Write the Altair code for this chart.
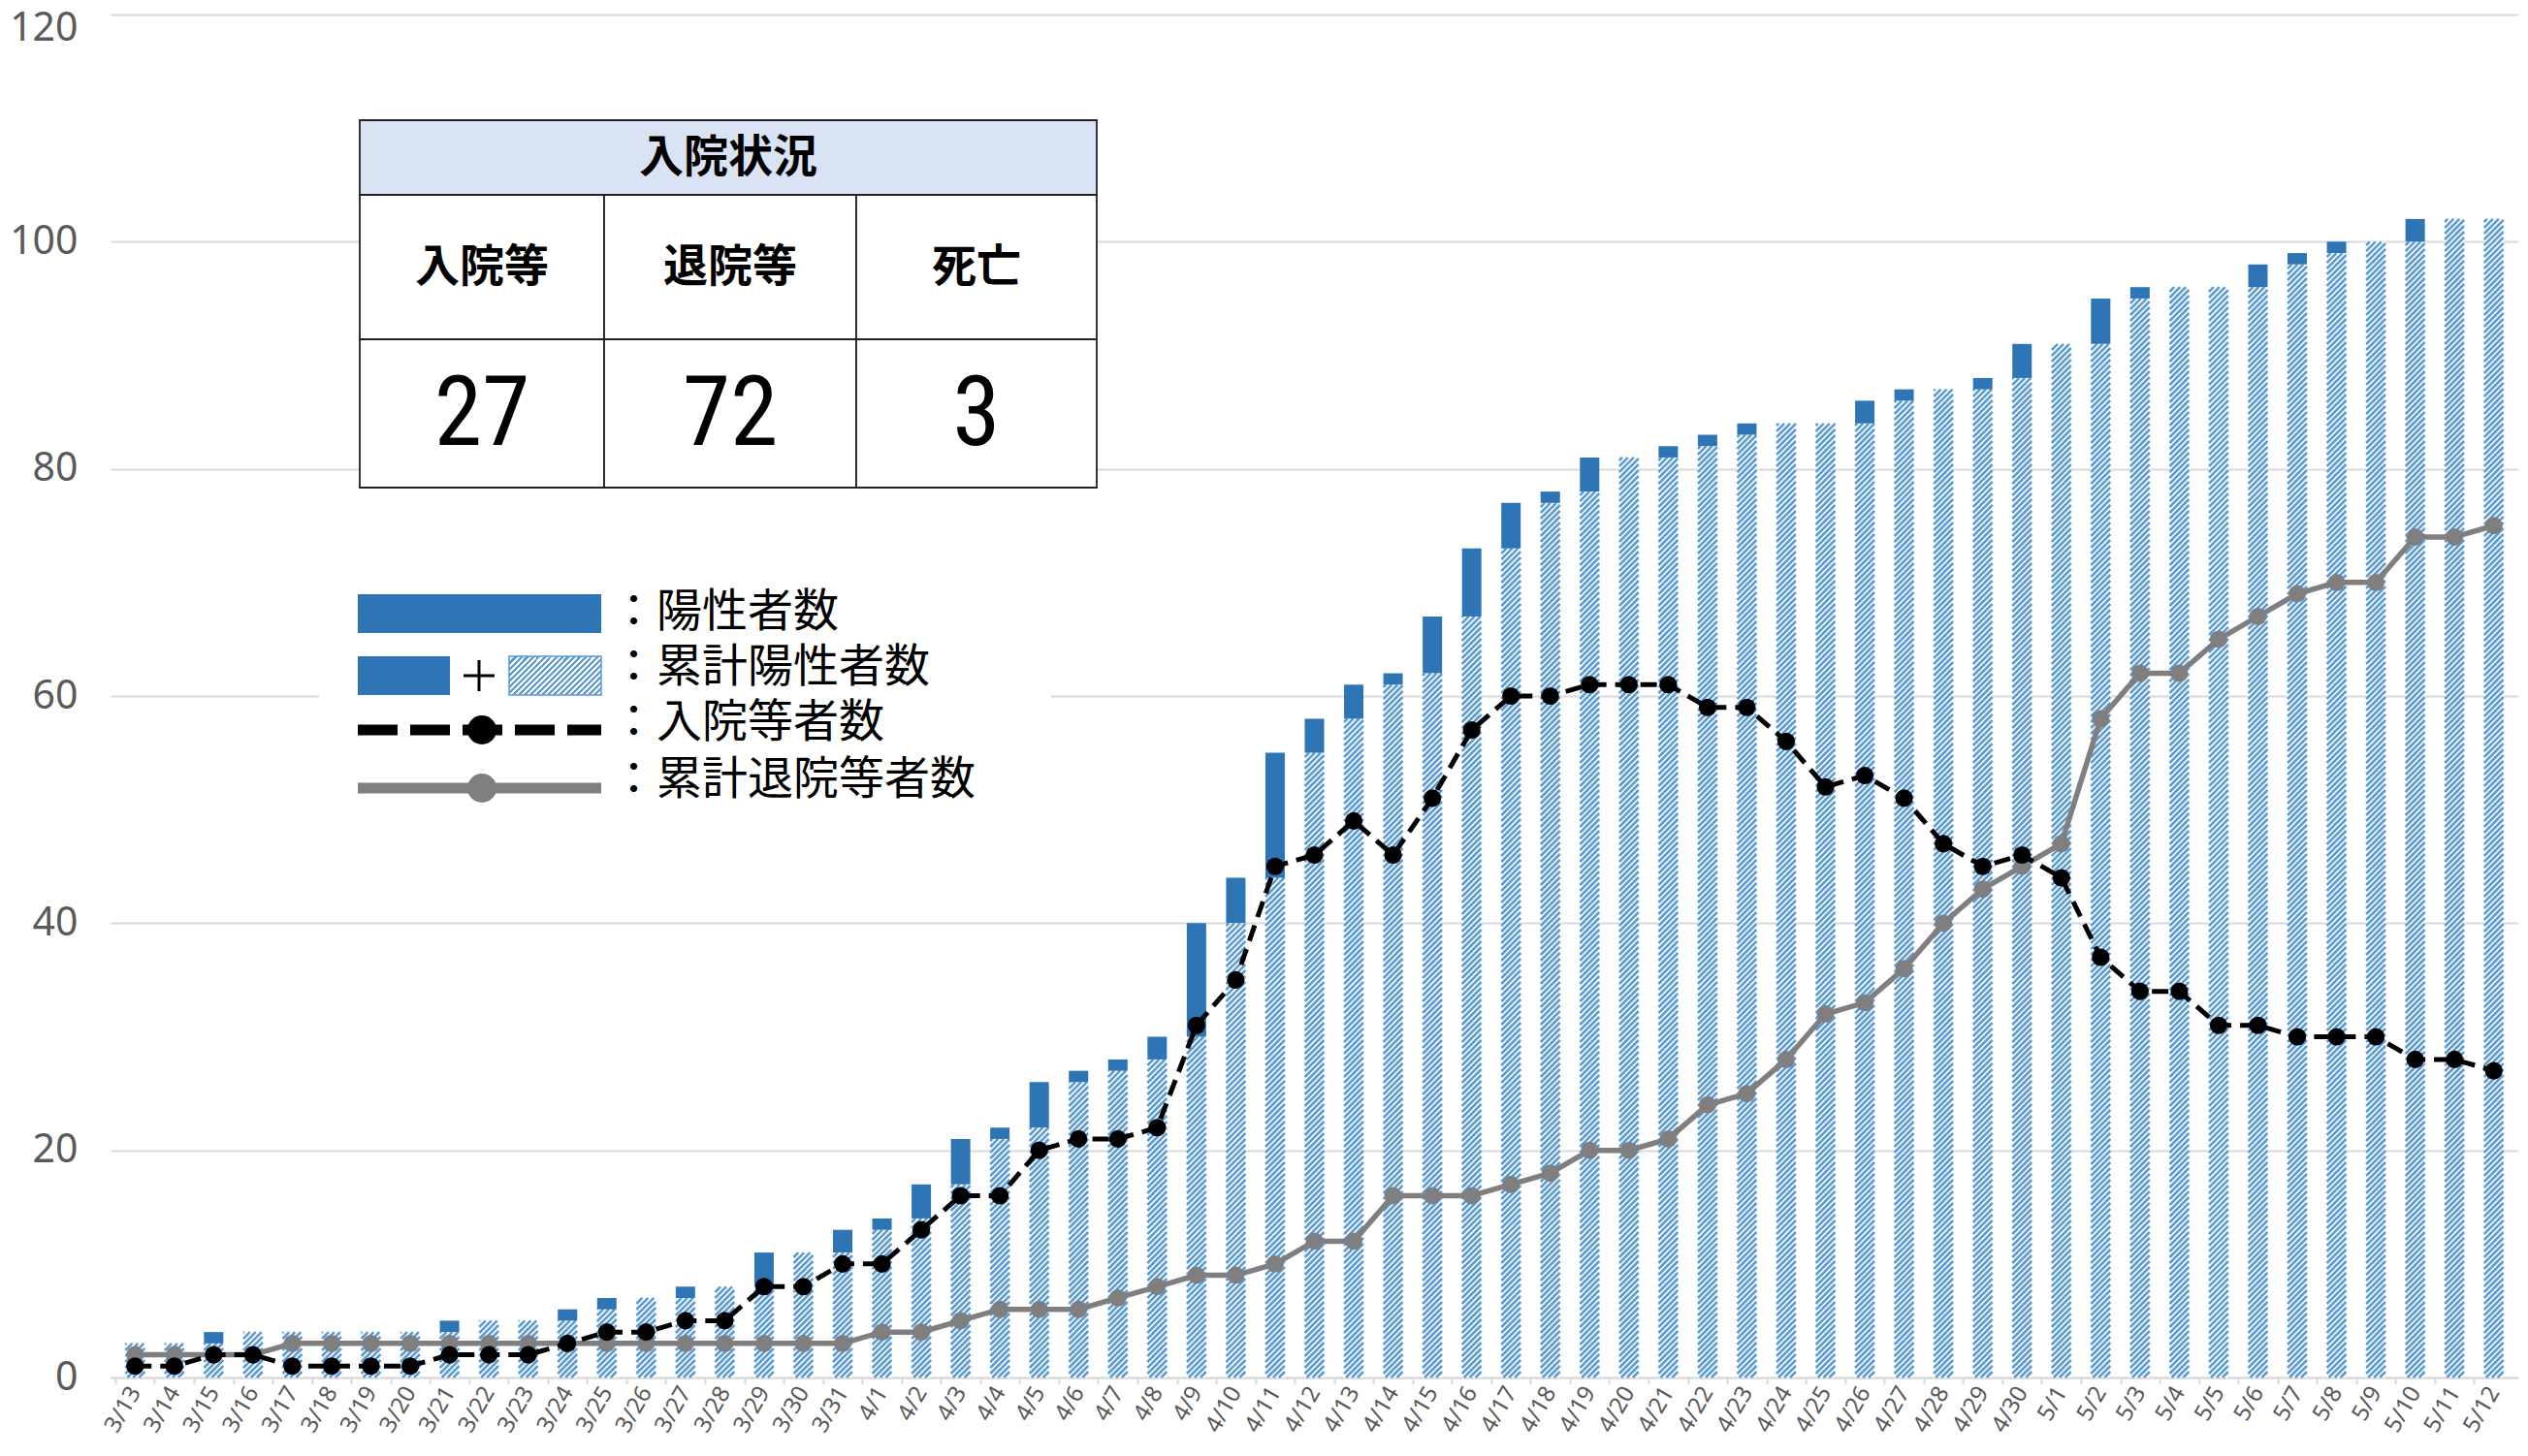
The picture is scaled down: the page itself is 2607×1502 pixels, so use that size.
import altair as alt
import pandas as pd

# ---------------- data ----------------
dates = ["3/13", "3/14", "3/15", "3/16", "3/17", "3/18", "3/19", "3/20", "3/21", "3/22",
         "3/23", "3/24", "3/25", "3/26", "3/27", "3/28", "3/29", "3/30", "3/31",
         "4/1", "4/2", "4/3", "4/4", "4/5", "4/6", "4/7", "4/8", "4/9", "4/10",
         "4/11", "4/12", "4/13", "4/14", "4/15", "4/16", "4/17", "4/18", "4/19", "4/20",
         "4/21", "4/22", "4/23", "4/24", "4/25", "4/26", "4/27", "4/28", "4/29", "4/30",
         "5/1", "5/2", "5/3", "5/4", "5/5", "5/6", "5/7", "5/8", "5/9", "5/10", "5/11", "5/12"]
new_cases = [0, 0, 1, 0, 0, 0, 0, 0, 1, 0, 0, 1, 1, 0, 1, 0, 3, 0, 2,
             1, 3, 4, 1, 4, 1, 1, 2, 10, 4, 11, 3, 3, 1, 5, 6, 4, 1, 3, 0,
             1, 1, 1, 0, 0, 2, 1, 0, 1, 3,
             0, 4, 1, 0, 0, 2, 1, 1, 0, 2, 0, 0]
total_cases = [3, 3, 4, 4, 4, 4, 4, 4, 5, 5, 5, 6, 7, 7, 8, 8, 11, 11, 13,
               14, 17, 21, 22, 26, 27, 28, 30, 40, 44, 55, 58, 61, 62, 67, 73, 77, 78, 81, 81,
               82, 83, 84, 84, 84, 86, 87, 87, 88, 91,
               91, 95, 96, 96, 96, 98, 99, 100, 100, 102, 102, 102]
hospitalized = [1, 1, 2, 2, 1, 1, 1, 1, 2, 2, 2, 3, 4, 4, 5, 5, 8, 8, 10,
                10, 13, 16, 16, 20, 21, 21, 22, 31, 35, 45, 46, 49, 46, 51, 57, 60, 60, 61, 61,
                61, 59, 59, 56, 52, 53, 51, 47, 45, 46,
                44, 37, 34, 34, 31, 31, 30, 30, 30, 28, 28, 27]
discharged = [2, 2, 2, 2, 3, 3, 3, 3, 3, 3, 3, 3, 3, 3, 3, 3, 3, 3, 3,
              4, 4, 5, 6, 6, 6, 7, 8, 9, 9, 10, 12, 12, 16, 16, 16, 17, 18, 20, 20,
              21, 24, 25, 28, 32, 33, 36, 40, 43, 45,
              47, 58, 62, 62, 65, 67, 69, 70, 70, 74, 74, 75]
y_ticks = [0, 20, 40, 60, 80, 100, 120]

table_title = "入院状況"
table_heads = ["入院等", "退院等", "死亡"]
table_values = ["27", "72", "3"]
legend_labels = ["：陽性者数", "：累計陽性者数", "：入院等者数", "：累計退院等者数"]

df = pd.DataFrame({
    "idx": list(range(len(dates))),
    "date": dates,
    "new": new_cases,
    "total": total_cases,
    "hosp": hospitalized,
    "disc": discharged,
})
df["prev"] = df["total"] - df["new"]

# ---------------- layout / style ----------------
N = len(dates)
W, H = 2483, 1406
YMAX = 120
px_x = W / N
px_y = H / YMAX
BAR_W = 20
HW = (BAR_W / 2) / px_x          # half bar width in x units
RISE = BAR_W / px_y               # 45-degree hatch rise over one bar width, in y units
PITCH = 6 / px_y                  # vertical hatch pitch in y units

SOLID = "#2E75B6"
HATCH = "#5B9BD5"
GRID = "#D9D9D9"
AXTXT = "#595959"
NUMFONT = "Noto Sans"
JPFONT = "Noto Sans CJK JP"

x_scale = alt.Scale(domain=[-0.5, N - 0.5], nice=False, zero=False)
y_scale = alt.Scale(domain=[0, YMAX], nice=False)

label_expr = ("datum.value < %d ? [" % N + ",".join("'%s'" % d for d in dates)
              + "][round(datum.value)] : ''")

base = alt.Chart(df)

white_bars = base.mark_bar(width=BAR_W, color="white").encode(
    x=alt.X("idx:Q", scale=x_scale, title=None,
            axis=alt.Axis(values=list(range(N + 1)), labelExpr=label_expr, labelAngle=-60,
                          labelAlign="right", labelBaseline="middle", labelFont=NUMFONT,
                          labelFontSize=24, labelColor=AXTXT, labelPadding=4,
                          labelOverlap=False, labelFlush=False, labelBound=False,
                          ticks=True, tickSize=7, tickColor=GRID, tickWidth=2,
                          tickOffset=-px_x / 2, labelOffset=px_x / 2,
                          grid=False, domainColor=GRID, domainWidth=2, orient="bottom")),
    y=alt.Y("prev:Q", scale=y_scale, title=None,
            axis=alt.Axis(values=y_ticks, grid=True, gridColor=GRID, gridWidth=1.8,
                          domain=False, ticks=False, labelFont=NUMFONT, labelFontSize=41,
                          labelColor=AXTXT, labelPadding=34, orient="left",
                          labelOffset={"condition": {"test": "datum.value == %d" % YMAX,
                                                     "value": 14}, "value": 0})),
)

hatch = (
    base.transform_filter("datum.prev > 0")
    .transform_calculate(ks="sequence(%f, datum.prev, %f)" % (-RISE, PITCH))
    .transform_flatten(["ks"])
    .transform_calculate(
        t0="max(0, -datum.ks / %f)" % RISE,
        t1="min(1, (datum.prev - datum.ks) / %f)" % RISE,
    )
    .transform_filter("datum.t1 > datum.t0")
    .transform_calculate(
        xa="datum.idx - %f + %f * datum.t0" % (HW, 2 * HW),
        xb="datum.idx - %f + %f * datum.t1" % (HW, 2 * HW),
        ya="datum.ks + %f * datum.t0" % RISE,
        yb="datum.ks + %f * datum.t1" % RISE,
    )
    .mark_rule(color=HATCH, strokeWidth=2.5)
    .encode(
        x=alt.X("xa:Q", scale=x_scale, axis=None),
        x2="xb:Q",
        y=alt.Y("ya:Q", scale=y_scale, axis=None),
        y2="yb:Q",
    )
)

solid_bars = base.transform_filter("datum.new > 0").mark_bar(width=BAR_W, color=SOLID).encode(
    x=alt.X("idx:Q", scale=x_scale, axis=None),
    y=alt.Y("prev:Q", scale=y_scale, axis=None),
    y2="total:Q",
)

xenc = alt.X("idx:Q", scale=x_scale, axis=None)
gray_line = base.mark_line(color="#7F7F7F", strokeWidth=5.5).encode(
    x=xenc, y=alt.Y("disc:Q", scale=y_scale, axis=None))
gray_pts = base.mark_circle(color="#7F7F7F", size=320, opacity=1).encode(
    x=xenc, y=alt.Y("disc:Q", scale=y_scale, axis=None))
black_line = base.mark_line(color="black", strokeWidth=5, strokeDash=[17, 9]).encode(
    x=xenc, y=alt.Y("hosp:Q", scale=y_scale, axis=None))
black_pts = base.mark_circle(color="black", size=330, opacity=1).encode(
    x=xenc, y=alt.Y("hosp:Q", scale=y_scale, axis=None))

# ---------------- annotations (table + legend) ----------------
one = alt.Data(values=[{"k": 0}])


def rect(x, x2, y, y2, **kw):
    return alt.Chart(one).mark_rect(**kw).encode(
        x=alt.value(x), x2=alt.value(x2), y=alt.value(y), y2=alt.value(y2))


def text(x, y, s, **kw):
    return alt.Chart(one).mark_text(**kw).encode(
        x=alt.value(x), y=alt.value(y), text=alt.value(s))


def hrule(x, x2, y, **kw):
    return alt.Chart(one).mark_rule(**kw).encode(
        x=alt.value(x), x2=alt.value(x2), y=alt.value(y))


def vrule(x, y, y2, **kw):
    return alt.Chart(one).mark_rule(**kw).encode(
        x=alt.value(x), y=alt.value(y), y2=alt.value(y2))


def dot(x, y, size, color):
    return alt.Chart(one).mark_point(filled=True, shape="circle", size=size, color=color,
                                     opacity=1).encode(x=alt.value(x), y=alt.value(y))


TX = [257, 509, 769, 1017]
TY = [109, 186, 335, 488]
ann = []
ann.append(rect(TX[0], TX[3], TY[0], TY[1], fill="#DAE3F3", stroke="#222222", strokeWidth=1.8))
for i in range(3):
    ann.append(rect(TX[i], TX[i + 1], TY[1], TY[2], fill="white", stroke="#222222", strokeWidth=1.8))
    ann.append(rect(TX[i], TX[i + 1], TY[2], TY[3], fill="white", stroke="#222222", strokeWidth=1.8))
ann.append(text((TX[0] + TX[3]) / 2, (TY[0] + TY[1]) / 2, table_title, font=JPFONT,
                fontSize=46, fontWeight="bold", color="black", align="center", baseline="middle"))
for i in range(3):
    cx = (TX[i] + TX[i + 1]) / 2
    ann.append(text(cx, (TY[1] + TY[2]) / 2, table_heads[i], font=JPFONT, fontSize=46,
                    fontWeight="bold", color="black", align="center", baseline="middle"))
    ann.append(text(cx, (TY[2] + TY[3]) / 2 + 2, table_values[i],
                    font="Liberation Sans Narrow, Roboto Condensed, " + JPFONT, fontSize=100,
                    color="black", align="center", baseline="middle"))

# legend
ann.append(rect(215, 970, 575, 825, fill="white"))
ann.append(rect(255, 506, 598, 638, fill=SOLID))
ann.append(rect(255, 350, 662, 702, fill=SOLID))
ann.append(hrule(364, 396, 682, color="black", strokeWidth=3))
ann.append(vrule(380, 666, 698, color="black", strokeWidth=3))
lw, lh = 95.0, 40.0
ga = (lw + lh) * lw / (lw * lw + lh * lh)
gb = ga * lh / lw
period = 6.0 / (lw + lh)
stops = []
s = 0.0
while s < 1.0:
    m = min(1.0, s + period / 2)
    e = min(1.0, s + period)
    stops += [alt.GradientStop(color=HATCH, offset=round(s, 5)),
              alt.GradientStop(color=HATCH, offset=round(m, 5)),
              alt.GradientStop(color="white", offset=round(m, 5)),
              alt.GradientStop(color="white", offset=round(e, 5))]
    s += period
hatch_fill = alt.LinearGradient(gradient="linear", stops=stops, x1=0, y1=0,
                                x2=round(ga, 4), y2=round(gb, 4))
ann.append(rect(411, 506, 662, 702, fill=hatch_fill, stroke=HATCH, strokeWidth=1.5))
ann.append(hrule(255, 506, 738, color="black", strokeWidth=11, strokeDash=[41, 13]))
ann.append(dot(383, 738, 900, "black"))
ann.append(hrule(255, 506, 798, color="#7F7F7F", strokeWidth=11))
ann.append(dot(383, 798, 900, "#7F7F7F"))
for i, lab in enumerate(legend_labels):
    ann.append(text(516, [617, 674, 731, 790][i], lab, font=JPFONT, fontSize=47,
                    color="black", align="left", baseline="middle"))

chart = (
    alt.layer(white_bars, hatch, solid_bars, gray_line, gray_pts, black_line, black_pts, *ann)
    .resolve_axis(x="independent", y="independent")
    .properties(width=W, height=H, autosize=alt.AutoSizeParams(type="none"),
                padding={"left": 106, "top": 7, "right": 0, "bottom": 67},
                background="white")
    .configure_view(strokeWidth=0)
)

chart.save("out.html", embed_options={"renderer": "svg", "actions": False})
